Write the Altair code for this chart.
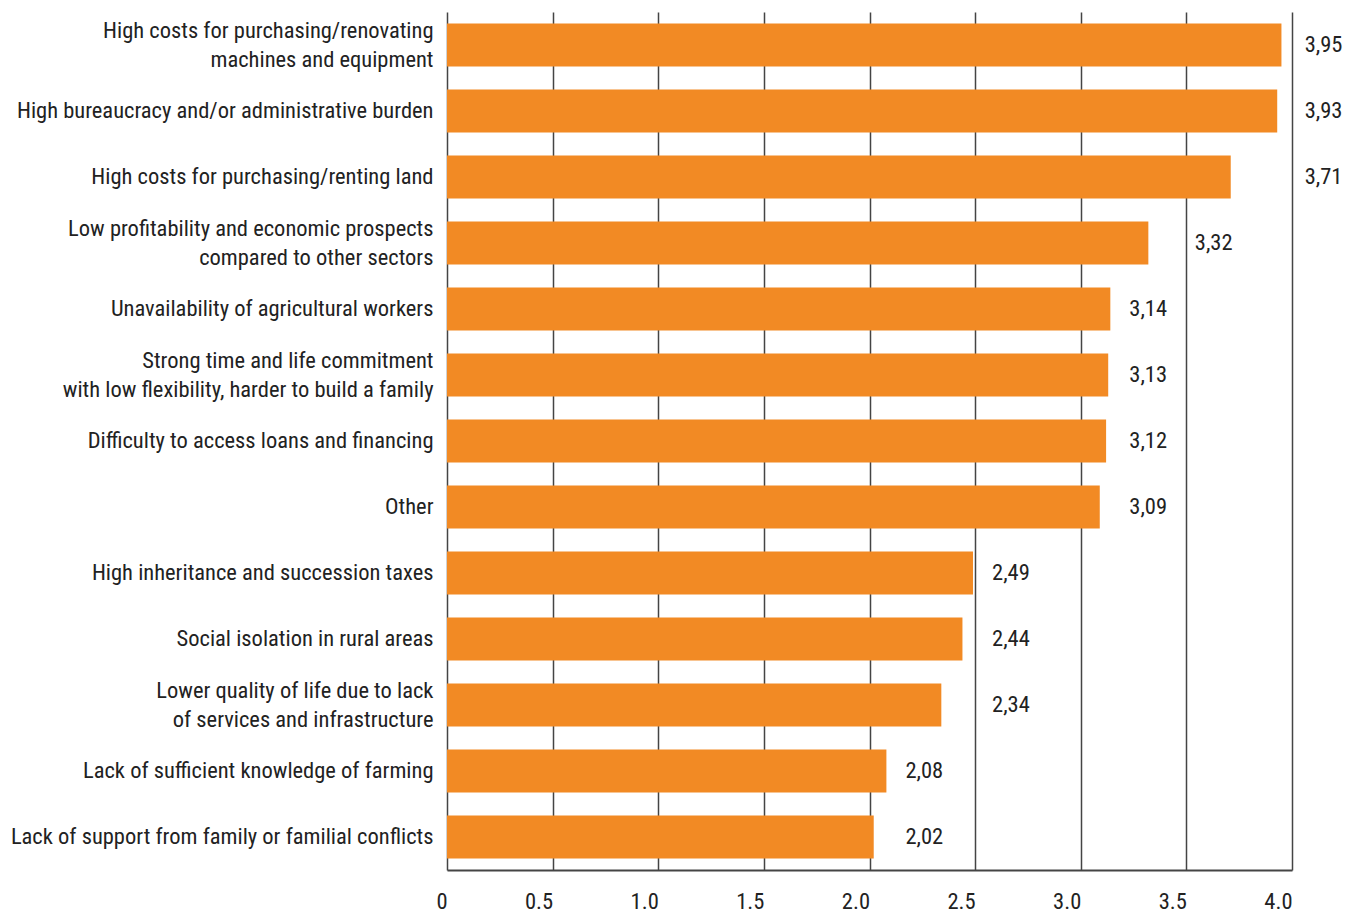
import altair as alt
import pandas as pd

categories = [
    "High costs for purchasing/renovating|machines and equipment",
    "High bureaucracy and/or administrative burden",
    "High costs for purchasing/renting land",
    "Low profitability and economic prospects|compared to other sectors",
    "Unavailability of agricultural workers",
    "Strong time and life commitment|with low flexibility, harder to build a family",
    "Difficulty to access loans and financing",
    "Other",
    "High inheritance and succession taxes",
    "Social isolation in rural areas",
    "Lower quality of life due to lack|of services and infrastructure",
    "Lack of sufficient knowledge of farming",
    "Lack of support from family or familial conflicts",
]
values = [3.95, 3.93, 3.71, 3.32, 3.14, 3.13, 3.12, 3.09, 2.49, 2.44, 2.34, 2.08, 2.02]
label_at = [4.06, 4.06, 4.06, 3.54, 3.23, 3.23, 3.23, 3.23, 2.58, 2.58, 2.58, 2.17, 2.17]
x_ticks = [0, 0.5, 1.0, 1.5, 2.0, 2.5, 3.0, 3.5, 4.0]

df = pd.DataFrame({
    "cat": categories,
    "value": values,
    "label_at": label_at,
    "text": [f"{v:.2f}".replace(".", ",") for v in values],
})

FONT = "Roboto Condensed, DejaVu Sans Condensed, Roboto"
INK = "#222222"
GRID = "#444444"
FS = 22.5

y_enc = alt.Y(
    "cat:N",
    sort=categories,
    scale=alt.Scale(paddingInner=0.35, paddingOuter=0.175),
    axis=alt.Axis(
        title=None,
        labelExpr="split(datum.label, '|')",
        labelFontSize=FS,
        labelFont=FONT,
        labelColor=INK,
        labelLineHeight=29,
        labelPadding=14,
        labelLimit=500,
        labelOffset={"condition": {"test": "indexof(datum.label, '|') >= 0", "value": -14.5}, "value": 0},
        ticks=False,
        domain=False,
        grid=False,
    ),
)

x_scale = alt.Scale(domain=[0, 4], nice=False)

bars = alt.Chart(df).mark_bar(color="#F28A24").encode(
    x=alt.X(
        "value:Q",
        scale=x_scale,
        axis=alt.Axis(
            title=None,
            values=x_ticks,
            labelExpr="datum.value == 0 ? '0' : format(datum.value, '.1f')",
            labelFontSize=FS,
            labelFont=FONT,
            labelColor=INK,
            labelPadding=20,
            labelAlign="right",
            labelFlush=False,
            ticks=False,
            domain=True,
            domainColor=GRID,
            domainWidth=2,
            grid=True,
            gridColor=GRID,
            gridWidth=1.5,
            gridOpacity=1,
        ),
    ),
    y=y_enc,
)

texts = alt.Chart(df).mark_text(
    align="left", baseline="middle", fontSize=FS, font=FONT, color=INK
).encode(
    x=alt.X("label_at:Q", scale=x_scale),
    y=alt.Y("cat:N", sort=categories),
    text="text:N",
)

chart = (
    alt.layer(bars, texts)
    .properties(
        width=845,
        height=858,
        autosize=alt.AutoSizeParams(type="none"),
        padding={"left": 447, "top": 12, "right": 56, "bottom": 40},
    )
    .configure_view(stroke=None)
)

chart.save("out.html", embed_options={"renderer": "svg", "actions": False})
